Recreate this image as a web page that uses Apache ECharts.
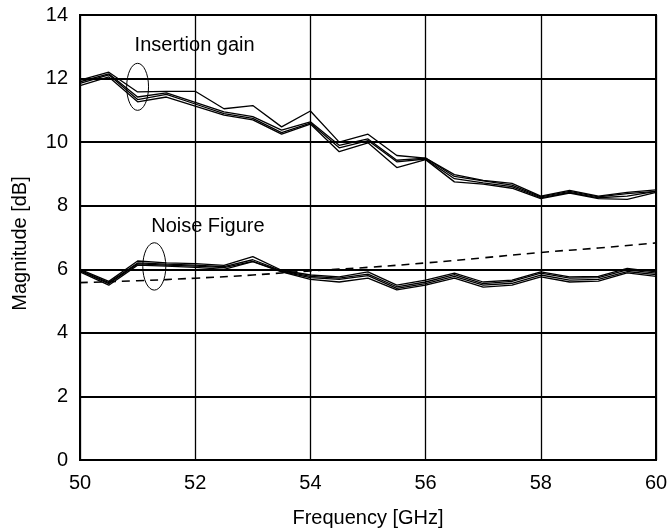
<!DOCTYPE html>
<html>
<head>
<meta charset="utf-8">
<script src="https://cdn.jsdelivr.net/npm/echarts@6/dist/echarts.min.js"></script>
<style>
  html, body { margin: 0; padding: 0; background: #fff; }
  #main { width: 670px; height: 531px; }
</style>
</head>
<body>
<div id="main"></div>
<script>
// frequency points, GHz
var freq = [50, 50.5, 51, 51.5, 52, 52.5, 53, 53.5, 54, 54.5, 55, 55.5, 56, 56.5, 57, 57.5, 58, 58.5, 59, 59.5, 60];

// insertion gain, measured (4 samples), dB
var gain1 = [11.95, 12.2, 11.58, 11.6, 11.6, 11.05, 11.15, 10.48, 10.98, 10.0, 10.25, 9.58, 9.5, 8.98, 8.8, 8.7, 8.3, 8.48, 8.3, 8.42, 8.5];
var gain2 = [11.9, 12.15, 11.42, 11.55, 11.25, 10.95, 10.8, 10.38, 10.64, 9.9, 10.1, 9.43, 9.5, 8.92, 8.78, 8.65, 8.28, 8.45, 8.28, 8.38, 8.45];
var gain3 = [11.85, 12.12, 11.34, 11.5, 11.2, 10.9, 10.75, 10.3, 10.6, 9.82, 10.05, 9.38, 9.47, 8.85, 8.72, 8.6, 8.25, 8.42, 8.25, 8.3, 8.45];
var gain4 = [11.78, 12.05, 11.27, 11.42, 11.13, 10.85, 10.7, 10.25, 10.57, 9.7, 9.98, 9.2, 9.45, 8.75, 8.68, 8.55, 8.22, 8.4, 8.22, 8.2, 8.42];

// noise figure, measured (4 samples), dB
var nf1 = [6.0, 5.62, 6.26, 6.2, 6.18, 6.12, 6.4, 5.97, 5.82, 5.76, 5.92, 5.5, 5.66, 5.88, 5.6, 5.66, 5.92, 5.76, 5.78, 6.03, 5.92];
var nf2 = [5.97, 5.58, 6.2, 6.16, 6.13, 6.08, 6.3, 5.95, 5.78, 5.72, 5.85, 5.45, 5.6, 5.83, 5.55, 5.62, 5.88, 5.72, 5.74, 5.98, 5.88];
var nf3 = [5.95, 5.55, 6.17, 6.13, 6.1, 6.05, 6.25, 5.93, 5.74, 5.68, 5.8, 5.4, 5.55, 5.78, 5.5, 5.56, 5.82, 5.66, 5.68, 5.93, 5.83];
var nf4 = [5.92, 5.5, 6.13, 6.1, 6.06, 6.0, 6.24, 5.92, 5.68, 5.6, 5.72, 5.35, 5.5, 5.72, 5.44, 5.5, 5.76, 5.6, 5.63, 5.89, 5.78];

// noise figure, simulated (dashed)
var simFreq = [50, 51, 52, 53, 54, 55, 56, 57, 58, 59, 60];
var simNf = [5.58, 5.64, 5.72, 5.82, 5.95, 6.06, 6.2, 6.36, 6.53, 6.67, 6.83];

// annotations: ellipse around curves + caption
var notes = [
  { text: "Insertion gain", ellipse: [51.0, 11.74, 0.19, 0.74], label: [51.99, 13.05] },
  { text: "Noise Figure", ellipse: [51.29, 6.09, 0.2, 0.745], label: [52.22, 7.36] }
];

var font = "'Liberation Sans', Arial, sans-serif";

function pairs(xs, ys) {
  return xs.map(function (x, i) { return [x, ys[i]]; });
}

function measured(values) {
  return {
    type: "line",
    data: pairs(freq, values),
    showSymbol: false,
    silent: true,
    lineStyle: { color: "#000", width: 1.3 }
  };
}

var myChart = echarts.init(document.getElementById("main"));
myChart.setOption({
  backgroundColor: "#fff",
  animation: false,
  grid: {
    left: 80, right: 14, top: 15, bottom: 71,
    outerBoundsMode: "none",
    show: true, borderColor: "#000", borderWidth: 2
  },
  xAxis: {
    type: "value",
    min: 50, max: 60, interval: 2,
    name: "Frequency [GHz]",
    nameLocation: "middle",
    nameGap: 48,
    nameTextStyle: { color: "#000", fontSize: 20, fontFamily: font },
    axisLine: { lineStyle: { color: "#000", width: 2 } },
    axisTick: { show: false },
    axisLabel: { color: "#000", fontSize: 20, fontFamily: font, margin: 13 },
    splitLine: { lineStyle: { color: "#000", width: 1.3 } }
  },
  yAxis: {
    type: "value",
    min: 0, max: 14, interval: 2,
    name: "Magnitude [dB]",
    nameLocation: "middle",
    nameGap: 50,
    nameTextStyle: { color: "#000", fontSize: 20, fontFamily: font, padding: [0, 12, 0, 0] },
    axisLine: { show: true, lineStyle: { color: "#000", width: 2 } },
    axisTick: { show: false },
    axisLabel: { color: "#000", fontSize: 20, fontFamily: font, margin: 12 },
    splitLine: { lineStyle: { color: "#000", width: 1.8 } }
  },
  series: [
    measured(gain1), measured(gain2), measured(gain3), measured(gain4),
    measured(nf1), measured(nf2), measured(nf3), measured(nf4),
    {
      type: "line",
      data: pairs(simFreq, simNf),
      smooth: true,
      showSymbol: false,
      silent: true,
      lineStyle: { color: "#000", width: 1.6, type: [8, 6] }
    },
    {
      type: "custom",
      silent: true,
      data: notes.map(function (n, i) { return [n.ellipse[0], n.ellipse[1], i]; }),
      renderItem: function (params, api) {
        var n = notes[api.value(2)];
        var c = api.coord([n.ellipse[0], n.ellipse[1]]);
        var r = api.size([n.ellipse[2], n.ellipse[3]]);
        var t = api.coord(n.label);
        return {
          type: "group",
          children: [
            {
              type: "ellipse",
              shape: { cx: c[0], cy: c[1], rx: r[0], ry: r[1] },
              style: { fill: null, stroke: "#000", lineWidth: 1 }
            },
            {
              type: "text",
              x: t[0], y: t[1],
              style: {
                text: n.text, fill: "#000", font: "20px " + font,
                align: "center", verticalAlign: "middle"
              }
            }
          ]
        };
      }
    }
  ]
});
window.addEventListener("resize", function () {
  myChart.resize();
});
</script>
</body>
</html>
